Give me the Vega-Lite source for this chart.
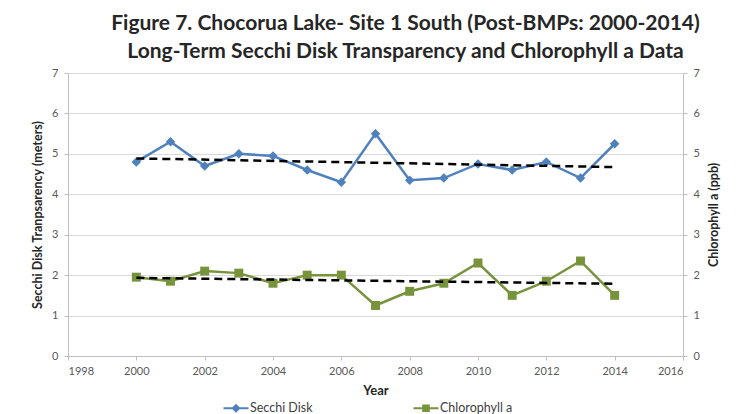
{
  "$schema": "https://vega.github.io/schema/vega-lite/v6.json",
  "width": 615,
  "height": 283,
  "autosize": {"type": "none"},
  "padding": {"left": 68, "top": 73, "right": 62, "bottom": 58},
  "background": "white",
  "title": {
    "text": ["Figure 7. Chocorua Lake- Site 1 South  (Post-BMPs: 2000-2014)", "Long-Term Secchi Disk Transparency and Chlorophyll a Data"],
    "font": "Lato",
    "fontSize": 21,
    "fontWeight": "bold",
    "color": "#262626",
    "lineHeight": 28,
    "offset": 5,
    "anchor": "middle",
    "dx": 30
  },
  "config": {
    "view": {"stroke": null},
    "axis": {
      "labelFont": "Lato",
      "labelFontSize": 11,
      "labelColor": "#595959",
      "titleFont": "Lato",
      "titleFontSize": 13,
      "titleFontWeight": "bold",
      "titleColor": "#262626",
      "domainColor": "#bfbfbf",
      "tickColor": "#bfbfbf",
      "gridColor": "#d9d9d9",
      "tickSize": 4
    }
  },
  "data": {
    "values": [
      {"year": 2000, "series": "Secchi Disk", "value": 4.8},
      {"year": 2001, "series": "Secchi Disk", "value": 5.3},
      {"year": 2002, "series": "Secchi Disk", "value": 4.7},
      {"year": 2003, "series": "Secchi Disk", "value": 5.0},
      {"year": 2004, "series": "Secchi Disk", "value": 4.95},
      {"year": 2005, "series": "Secchi Disk", "value": 4.6},
      {"year": 2006, "series": "Secchi Disk", "value": 4.3},
      {"year": 2007, "series": "Secchi Disk", "value": 5.5},
      {"year": 2008, "series": "Secchi Disk", "value": 4.35},
      {"year": 2009, "series": "Secchi Disk", "value": 4.4},
      {"year": 2010, "series": "Secchi Disk", "value": 4.75},
      {"year": 2011, "series": "Secchi Disk", "value": 4.6},
      {"year": 2012, "series": "Secchi Disk", "value": 4.8},
      {"year": 2013, "series": "Secchi Disk", "value": 4.4},
      {"year": 2014, "series": "Secchi Disk", "value": 5.25},
      {"year": 2000, "series": "Chlorophyll a", "value": 1.95},
      {"year": 2001, "series": "Chlorophyll a", "value": 1.85},
      {"year": 2002, "series": "Chlorophyll a", "value": 2.1},
      {"year": 2003, "series": "Chlorophyll a", "value": 2.05},
      {"year": 2004, "series": "Chlorophyll a", "value": 1.8},
      {"year": 2005, "series": "Chlorophyll a", "value": 2.0},
      {"year": 2006, "series": "Chlorophyll a", "value": 2.0},
      {"year": 2007, "series": "Chlorophyll a", "value": 1.25},
      {"year": 2008, "series": "Chlorophyll a", "value": 1.6},
      {"year": 2009, "series": "Chlorophyll a", "value": 1.8},
      {"year": 2010, "series": "Chlorophyll a", "value": 2.3},
      {"year": 2011, "series": "Chlorophyll a", "value": 1.5},
      {"year": 2012, "series": "Chlorophyll a", "value": 1.85},
      {"year": 2013, "series": "Chlorophyll a", "value": 2.35},
      {"year": 2014, "series": "Chlorophyll a", "value": 1.5}
    ]
  },
  "encoding": {
    "x": {
      "field": "year",
      "type": "quantitative",
      "scale": {"domain": [1998, 2016], "nice": false, "zero": false},
      "axis": {
        "values": [1998, 2000, 2002, 2004, 2006, 2008, 2010, 2012, 2014, 2016],
        "format": "d",
        "grid": false,
        "labelPadding": 5,
        "title": "Year",
        "titlePadding": 8
      }
    }
  },
  "layer": [
    {
      "encoding": {
        "y": {
          "field": "value",
          "type": "quantitative",
          "scale": {"domain": [0, 7], "nice": false},
          "axis": {
            "orient": "left",
            "values": [0, 1, 2, 3, 4, 5, 6, 7],
            "grid": true,
            "labelPadding": 6,
            "title": "Secchi Disk Tranpsarency (meters)",
            "titleFontSize": 12.5,
            "titlePadding": 7
          }
        }
      },
      "transform": [{"filter": "datum.series === 'Secchi Disk'"}],
      "layer": [
        {"mark": {"type": "line", "color": "#4f81bd", "strokeWidth": 2.5}},
        {
          "mark": {"type": "point", "shape": "diamond", "filled": true, "opacity": 1, "size": 90},
          "encoding": {
            "color": {
              "field": "series",
              "type": "nominal",
              "scale": {"domain": ["Secchi Disk", "Chlorophyll a"], "range": ["#4f81bd", "#77933c"]},
              "legend": {
                "orient": "none",
                "legendX": 158,
                "legendY": 325,
                "direction": "horizontal",
                "title": null,
                "symbolSize": 400,
                "symbolStrokeWidth": 0,
                "symbolType": {"expr": "datum.value === 'Secchi Disk' ? 'M-1.25,-0.1H1.25V0.1H-1.25Z M0,-0.45L0.45,0L0,0.45L-0.45,0Z' : 'M-1.25,-0.1H1.25V0.1H-1.25Z M-0.38,-0.38H0.38V0.38H-0.38Z'"},
                "labelOffset": 4,
                "columnPadding": 100,
                "labelFont": "Lato",
                "labelFontSize": 12.5,
                "labelColor": "#404040",
                "padding": 0
              }
            }
          }
        },
        {
          "transform": [{"regression": "value", "on": "year"}],
          "mark": {"type": "line", "color": "black", "strokeDash": [8, 5], "strokeWidth": 2.5}
        }
      ]
    },
    {
      "encoding": {
        "y": {
          "field": "value",
          "type": "quantitative",
          "scale": {"domain": [0, 7], "nice": false},
          "axis": {
            "orient": "right",
            "values": [0, 1, 2, 3, 4, 5, 6, 7],
            "grid": false,
            "labelPadding": 6,
            "title": "Chlorophyll a (ppb)",
            "titleFontSize": 12.5,
            "titleAngle": 270,
            "titleBaseline": "top",
            "titlePadding": 8
          }
        }
      },
      "transform": [{"filter": "datum.series === 'Chlorophyll a'"}],
      "layer": [
        {"mark": {"type": "line", "color": "#77933c", "strokeWidth": 2.5}},
        {
          "mark": {"type": "point", "shape": "square", "filled": true, "opacity": 1, "size": 80},
          "encoding": {
            "color": {"field": "series", "type": "nominal"}
          }
        },
        {
          "transform": [{"regression": "value", "on": "year"}],
          "mark": {"type": "line", "color": "black", "strokeDash": [8, 5], "strokeWidth": 2.5}
        }
      ]
    }
  ],
  "resolve": {"scale": {"y": "independent"}}
}
